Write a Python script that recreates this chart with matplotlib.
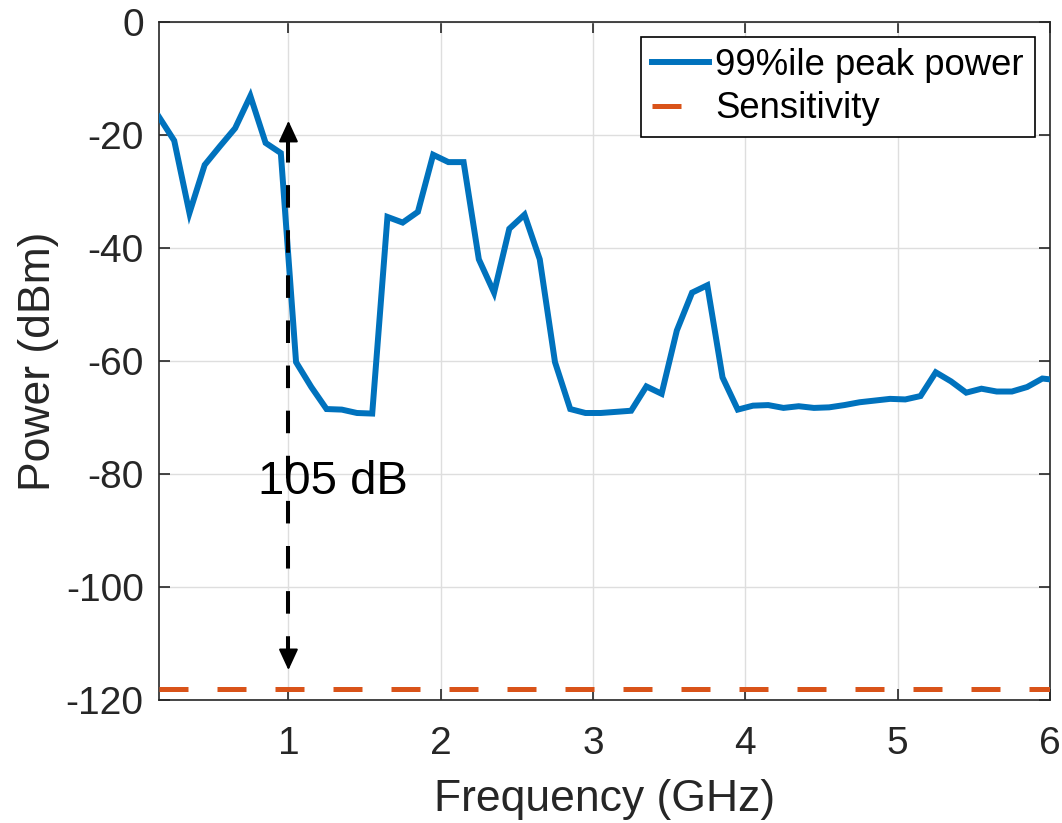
import matplotlib
matplotlib.use("Agg")
import matplotlib.pyplot as plt
import numpy as np

plt.rcParams['font.family'] = ['Liberation Sans', 'DejaVu Sans']
plt.rcParams['axes.unicode_minus'] = False

# frequency axis (GHz) and 99th percentile peak power (dBm)
freq_ghz = np.round(np.arange(0.15, 6.06, 0.1), 2)
peak_power = [
    -16.8, -21.0, -33.8, -25.3, -22.0, -18.8, -13.1, -21.4, -23.2, -60.2,
    -64.6, -68.5, -68.6, -69.2, -69.3, -34.5, -35.5, -33.6, -23.5, -24.8,
    -24.8, -42.0, -47.9, -36.6, -34.1, -42.0, -60.2, -68.5, -69.2, -69.2,
    -69.0, -68.8, -64.5, -65.8, -54.6, -47.9, -46.6, -62.9, -68.6, -67.9,
    -67.8, -68.3, -68.0, -68.3, -68.2, -67.8, -67.3, -67.0, -66.7, -66.8,
    -66.2, -62.0, -63.6, -65.6, -64.9, -65.4, -65.4, -64.6, -63.1, -63.4,
]
sensitivity = -118
arrow_x = 1.0
arrow_top = -17.5
arrow_bottom = -114.7
gap_label = "105 dB"

blue = (0.0, 0.447, 0.741)
orange = (0.85, 0.325, 0.098)
axcol = (0.15, 0.15, 0.15)

fig = plt.figure(figsize=(10.62, 8.23), dpi=100)
ax = fig.add_axes([0.1497, 0.1494, 0.839, 0.8239])

ax.plot(freq_ghz, peak_power, color=blue, lw=4.3, label="99%ile peak power",
        zorder=3, solid_joinstyle='miter')
ax.axhline(sensitivity, color=orange, lw=3.6, dashes=(5.8, 5.8),
           label="Sensitivity", zorder=3)

# dashed double arrow showing the dynamic range
head_len = 3.4
ax.plot([arrow_x, arrow_x], [arrow_top - head_len, arrow_bottom + head_len],
        color='k', lw=2.9, dashes=(5.6, 5.6), zorder=4)
for tip, back in [(arrow_top, arrow_top - head_len),
                  (arrow_bottom, arrow_bottom + head_len)]:
    ax.annotate('', xy=(arrow_x, tip), xytext=(arrow_x, back),
                arrowprops=dict(arrowstyle='-|>,head_length=0.65,head_width=0.3',
                                color='k', lw=1.5, shrinkA=0, shrinkB=0,
                                mutation_scale=20), zorder=5)
ax.text(0.80, -81.5, gap_label, fontsize=34, ha='left', va='center', zorder=5)

ax.set_xlim(0.15, 6)
ax.set_ylim(-120, 0)
ax.set_xticks([1, 2, 3, 4, 5, 6])
ax.set_yticks(np.arange(-120, 1, 20))
ax.grid(True, color=(0.87, 0.87, 0.87), lw=1.0)
ax.set_axisbelow(True)
ax.tick_params(direction='in', top=True, right=True, length=8, width=1.2,
               colors=axcol, labelsize=28, labelcolor=axcol)
ax.tick_params(axis='x', pad=19)
ax.tick_params(axis='y', pad=11)
for s in ax.spines.values():
    s.set_color(axcol)
    s.set_linewidth(1.2)
ax.set_xlabel("Frequency (GHz)", fontsize=32, color=axcol, labelpad=12)
ax.set_ylabel("Power (dBm)", fontsize=32, color=axcol, labelpad=5)

leg = ax.legend(loc='upper right', fontsize=26.3, frameon=True, fancybox=False,
                edgecolor='k', framealpha=1, handlelength=1.55, handletextpad=0.17,
                borderpad=0.3, labelspacing=0.22, borderaxespad=0.42)
leg.get_frame().set_linewidth(1.2)

fig.savefig("out.png", dpi=100)
